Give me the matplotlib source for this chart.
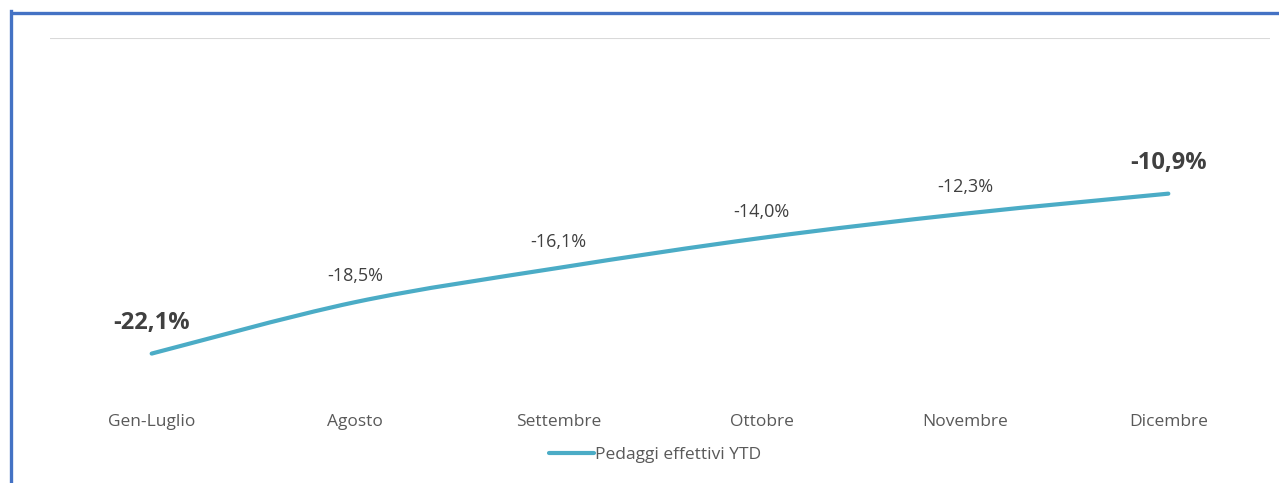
import matplotlib
matplotlib.use("Agg")
import matplotlib.pyplot as plt
from matplotlib.path import Path
from matplotlib.patches import PathPatch
from matplotlib.lines import Line2D

months = ["Gen-Luglio", "Agosto", "Settembre", "Ottobre", "Novembre", "Dicembre"]
values = [-22.1, -18.5, -16.1, -14.0, -12.3, -10.9]
labels = ["-22,1%", "-18,5%", "-16,1%", "-14,0%", "-12,3%", "-10,9%"]
bold_points = [0, 5]
series_name = "Pedaggi effettivi YTD"

LINE = "#4BACC6"
TXT = "#595959"

plt.rcParams["font.family"] = ["Open Sans", "DejaVu Sans"]

W, H = 1279, 483
fig = plt.figure(figsize=(W / 100, H / 100), dpi=100)
ax = fig.add_axes([50 / W, 1 - 395 / H, 1220 / W, 357 / H])
ax.set_xlim(-0.5, len(months) - 0.5)
ax.set_ylim(-25, 0)


def smooth_path(xs, ys, t=1 / 6):
    # Catmull-Rom style bezier, like the spreadsheet "smoothed line"
    verts = [(xs[0], ys[0])]
    codes = [Path.MOVETO]
    n = len(xs)
    for i in range(n - 1):
        x0, y0 = (xs[i - 1], ys[i - 1]) if i > 0 else (xs[i], ys[i])
        x1, y1 = xs[i], ys[i]
        x2, y2 = xs[i + 1], ys[i + 1]
        x3, y3 = (xs[i + 2], ys[i + 2]) if i + 2 < n else (x2, y2)
        c1 = (x1 + (x2 - x0) * t, y1 + (y2 - y0) * t)
        c2 = (x2 - (x3 - x1) * t, y2 - (y3 - y1) * t)
        verts += [c1, c2, (x2, y2)]
        codes += [Path.CURVE4] * 3
    return Path(verts, codes)


xs = list(range(len(months)))
ax.add_patch(PathPatch(smooth_path(xs, values), fill=False, edgecolor=LINE,
                       lw=3.0, capstyle="round", joinstyle="round", zorder=3))

for i, (v, lab) in enumerate(zip(values, labels)):
    if i in bold_points:
        ax.annotate(lab, (i, v), xytext=(0, 22), textcoords="offset points",
                    ha="center", va="center", fontsize=17, fontweight="bold",
                    color="#404040")
    else:
        ax.annotate(lab, (i, v), xytext=(0, 19), textcoords="offset points",
                    ha="center", va="center", fontsize=13, color="#404040")

ax.axhline(0, color="#D9D9D9", lw=1.5, zorder=1)
for s in ax.spines.values():
    s.set_visible(False)
ax.set_yticks([])
ax.set_xticks(xs)
ax.set_xticklabels(months, fontsize=12.5, color=TXT)
ax.tick_params(axis="x", length=0, pad=13.5)

# legend
handle = Line2D([], [], color=LINE, lw=3.0, solid_capstyle="round")
fig.legend([handle], [series_name], loc="center", bbox_to_anchor=(655 / W, 1 - 455 / H),
           frameon=False, fontsize=12.5, labelcolor=TXT, handlelength=2.6,
           handletextpad=0.1)

# blue frame on the left and top
fig.add_artist(Line2D([11 / W, 11 / W], [0, 1 - 11 / H], transform=fig.transFigure,
                      color="#4472C4", lw=2.4, solid_capstyle="projecting"))
fig.add_artist(Line2D([11 / W, 1], [1 - 13 / H, 1 - 13 / H], transform=fig.transFigure,
                      color="#4472C4", lw=2.4, solid_capstyle="butt"))

fig.savefig("out.png", dpi=100)
